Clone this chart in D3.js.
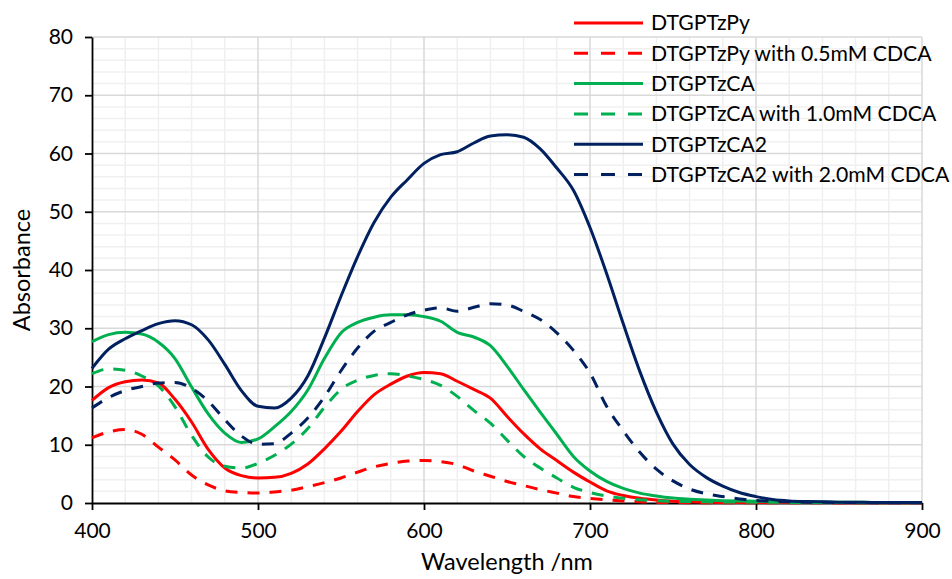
<!DOCTYPE html>
<html>
<head>
<meta charset="utf-8">
<script src="https://cdn.jsdelivr.net/npm/d3@7/dist/d3.min.js"></script>
<style>
  body { margin: 0; background: #fff; }
  svg text { font-family: Lato, "Liberation Sans", sans-serif; fill: #000; }
</style>
</head>
<body>
<svg id="chart" width="952" height="579"></svg>
<script>
// wavelengths (nm), 10 nm steps
const wavelengths = d3.range(400, 901, 10);

// absorbance values
const pyValues = [17.6, 19.8, 20.8, 21.1, 20.6, 17.8, 13.9, 9.2, 6.0, 4.7,
  4.3, 4.4, 5.1, 6.7, 9.3, 12.3, 15.7, 18.6, 20.4, 21.8,
  22.4, 22.2, 20.9, 19.5, 18.0, 14.9, 11.9, 9.3, 7.3, 5.3,
  3.6, 2.1, 1.3, 0.8, 0.5, 0.3, 0.2, 0.15, 0.1, 0.1,
  0.1, 0.1, 0.1, 0.08, 0.08, 0.06, 0.06, 0.05, 0.05, 0.05, 0.05];
const pyCdcaValues = [11.2, 12.2, 12.6, 11.8, 9.6, 7.4, 4.8, 3.1, 2.1, 1.8,
  1.7, 1.9, 2.2, 2.8, 3.5, 4.3, 5.3, 6.2, 6.8, 7.2,
  7.3, 7.1, 6.6, 5.5, 4.6, 3.7, 3.0, 2.3, 1.7, 1.1,
  0.8, 0.55, 0.35, 0.2, 0.1, 0.08, 0.06, 0.05, 0.05, 0.05,
  0.05, 0.05, 0.05, 0.05, 0.05, 0.05, 0.05, 0.05, 0.05, 0.05, 0.05];
const caValues = [27.7, 28.9, 29.3, 29.0, 27.6, 24.8, 19.9, 15.3, 12.0, 10.4,
  11.0, 13.1, 15.7, 19.4, 24.8, 29.2, 31.0, 31.9, 32.3, 32.3,
  32.0, 31.2, 29.3, 28.5, 27.0, 23.5, 19.5, 15.6, 11.8, 8.0,
  5.5, 3.7, 2.5, 1.7, 1.2, 0.85, 0.65, 0.5, 0.4, 0.35,
  0.3, 0.25, 0.2, 0.18, 0.15, 0.13, 0.12, 0.1, 0.1, 0.1, 0.1];
const caCdcaValues = [22.2, 23.0, 22.8, 21.8, 20.1, 16.5, 11.6, 7.9, 6.3, 6.0,
  6.8, 8.2, 10.1, 12.8, 16.4, 19.5, 21.1, 21.9, 22.2, 21.8,
  21.2, 20.2, 18.3, 15.9, 13.7, 10.8, 8.0, 6.0, 4.3, 2.7,
  1.8, 1.2, 0.8, 0.55, 0.4, 0.3, 0.25, 0.2, 0.18, 0.16,
  0.15, 0.12, 0.1, 0.1, 0.08, 0.08, 0.06, 0.06, 0.05, 0.05, 0.05];
const ca2Values = [23.1, 26.4, 28.2, 29.6, 30.8, 31.3, 30.6, 28.0, 23.8, 19.3,
  16.6, 16.3, 18.0, 21.8, 28.3, 35.5, 42.3, 48.2, 52.5, 55.5,
  58.3, 59.8, 60.3, 61.8, 63.0, 63.2, 62.8, 60.8, 57.5, 53.7,
  47.3, 39.4, 30.8, 22.6, 15.6, 10.1, 6.6, 4.4, 2.9, 1.8,
  1.1, 0.6, 0.35, 0.25, 0.2, 0.15, 0.12, 0.1, 0.1, 0.1, 0.1];
const ca2CdcaValues = [16.3, 18.1, 19.3, 20.0, 20.6, 20.7, 19.7, 17.5, 14.3, 11.5,
  10.1, 10.2, 12.0, 14.6, 18.2, 22.7, 26.6, 29.5, 31.0, 32.3,
  33.1, 33.5, 32.9, 33.6, 34.2, 34.0, 32.9, 31.5, 29.2, 26.2,
  22.3, 16.6, 12.4, 8.7, 5.8, 3.8, 2.4, 1.6, 1.1, 0.7,
  0.45, 0.3, 0.2, 0.15, 0.12, 0.1, 0.08, 0.06, 0.05, 0.05, 0.05];

const seriesNames = ["DTGPTzPy", "DTGPTzPy with 0.5mM CDCA", "DTGPTzCA",
  "DTGPTzCA with 1.0mM CDCA", "DTGPTzCA2", "DTGPTzCA2 with 2.0mM CDCA"];
const seriesValues = [pyValues, pyCdcaValues, caValues, caCdcaValues, ca2Values, ca2CdcaValues];
const seriesColors = ["#ff0000", "#ff0000", "#00b050", "#00b050", "#002060", "#002060"];
const seriesDashed = [false, true, false, true, false, true];

const xTicks = [400, 500, 600, 700, 800, 900];
const yTicks = [0, 10, 20, 30, 40, 50, 60, 70, 80];

const svg = d3.select("#chart");
const margin = {top: 37, right: 30, bottom: 76, left: 92};
const width = 952 - margin.left - margin.right,
      height = 579 - margin.top - margin.bottom;
const g = svg.append("g").attr("transform", "translate(" + margin.left + "," + margin.top + ")");

const x = d3.scaleLinear().domain([400, 900]).range([0, width]);
const y = d3.scaleLinear().domain([0, 80]).range([height, 0]);

// minor grid
g.append("g").selectAll("line")
  .data(d3.range(400, 901, 20).filter(d => d % 100 !== 0))
  .join("line")
    .attr("x1", d => x(d)).attr("x2", d => x(d))
    .attr("y1", 0).attr("y2", height)
    .attr("stroke", "#f0f0f0").attr("stroke-width", 1.5);
g.append("g").selectAll("line")
  .data(d3.range(0, 81, 2).filter(d => d % 10 !== 0))
  .join("line")
    .attr("x1", 0).attr("x2", width)
    .attr("y1", d => y(d)).attr("y2", d => y(d))
    .attr("stroke", "#f0f0f0").attr("stroke-width", 1.5);

// major grid
g.append("g").selectAll("line")
  .data(xTicks.slice(1))
  .join("line")
    .attr("x1", d => x(d)).attr("x2", d => x(d))
    .attr("y1", 0).attr("y2", height)
    .attr("stroke", "#d9d9d9").attr("stroke-width", 1.5);
g.append("g").selectAll("line")
  .data(yTicks.slice(1))
  .join("line")
    .attr("x1", 0).attr("x2", width)
    .attr("y1", d => y(d)).attr("y2", d => y(d))
    .attr("stroke", "#d9d9d9").attr("stroke-width", 1.5);

// axes
const xAxis = g.append("g")
    .attr("transform", "translate(0," + height + ")")
    .call(d3.axisBottom(x).tickValues(xTicks).tickSizeInner(7).tickSizeOuter(0).tickPadding(13));
const yAxis = g.append("g")
    .call(d3.axisLeft(y).tickValues(yTicks).tickSizeInner(7).tickSizeOuter(0).tickPadding(12));
[xAxis, yAxis].forEach(a => {
  a.select(".domain").attr("stroke", "#000").attr("stroke-width", 1.8);
  a.selectAll(".tick line").attr("stroke", "#000").attr("stroke-width", 1.8);
  a.selectAll(".tick text").attr("font-size", 21).attr("font-family", "Lato, sans-serif");
});

// lines
const line = d3.line()
    .x((d, i) => x(wavelengths[i]))
    .y(d => y(d))
    .curve(d3.curveMonotoneX);

seriesValues.forEach((vals, i) => {
  g.append("path")
    .datum(vals)
    .attr("fill", "none")
    .attr("stroke", seriesColors[i])
    .attr("stroke-width", 3)
    .attr("stroke-linejoin", "round")
    .attr("stroke-dasharray", seriesDashed[i] ? "12,10" : null)
    .attr("d", line);
});

// axis titles
svg.append("text")
  .attr("x", margin.left + width / 2).attr("y", 570)
  .attr("text-anchor", "middle").attr("font-size", 23.5)
  .text("Wavelength /nm");
svg.append("text")
  .attr("transform", "translate(30," + (margin.top + height / 2) + ") rotate(-90)")
  .attr("text-anchor", "middle").attr("font-size", 23.5)
  .text("Absorbance");

// legend
const legend = svg.append("g").attr("transform", "translate(574,23)");
seriesNames.forEach((name, i) => {
  const row = legend.append("g").attr("transform", "translate(0," + (i * 30.3) + ")");
  row.append("line")
    .attr("x1", 0).attr("x2", 69).attr("y1", 0).attr("y2", 0)
    .attr("stroke", seriesColors[i]).attr("stroke-width", 3)
    .attr("stroke-dasharray", seriesDashed[i] ? "14,13" : null);
  row.append("text")
    .attr("x", 77).attr("y", 0).attr("dy", "0.35em")
    .attr("font-size", 21.2)
    .text(name);
});
</script>
</body>
</html>
